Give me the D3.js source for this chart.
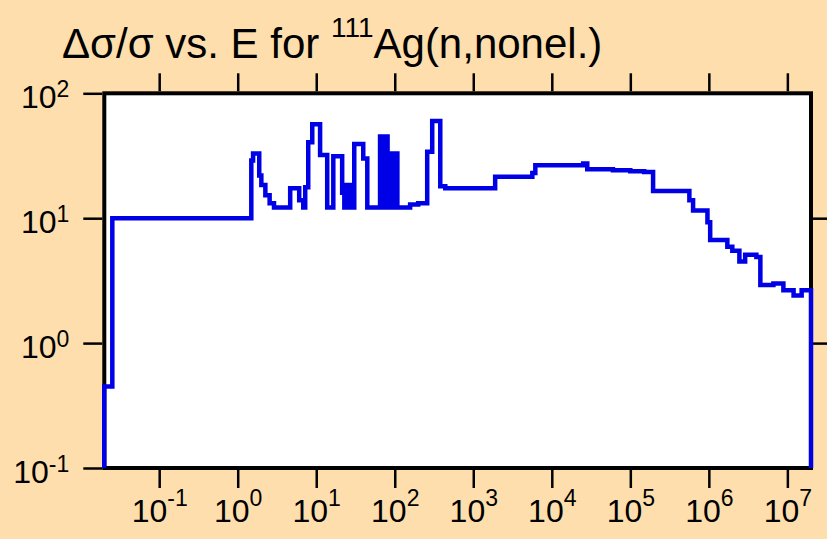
<!DOCTYPE html>
<html>
<head>
<meta charset="utf-8">
<script src="https://cdn.jsdelivr.net/npm/d3@7"></script>
<style>
  html, body { margin: 0; padding: 0; background: #FFDEAD; }
  svg { display: block; font-family: "Liberation Sans", Arial, sans-serif; }
</style>
</head>
<body>
<div id="chart"></div>
<script>
// step curve: energy (eV) where each step starts, and the value from there on
const energies = [0.02, 0.0253, 1.49, 1.57, 1.88, 2.0, 2.25, 2.55, 2.9, 4.66, 6.07, 6.83, 7.24, 7.91, 8.9,
    11.2, 13.8, 16.5, 21.4, 22.8, 24.1, 25.8, 27.2, 28.8, 30.5, 39.7, 44.7,
    65, 68, 71, 74, 77, 81, 85, 89, 93, 98, 103, 108, 157, 199, 259, 300, 380, 440,
    1900, 5650, 6170, 25100, 28300, 60000, 100000, 150000, 195000, 565000, 630000, 960000,
    1.04e6, 1.72e6, 1.99e6, 2.45e6, 2.9e6, 4.03e6, 4.53e6, 6.64e6, 8.9e6, 1.2e7, 1.52e7];
const values = [0.45, 10, 29, 33, 22, 18.4, 15.3, 13.2, 12.2, 17.4, 13.9, 12.2, 17.7, 40.5, 56.5,
    32, 12.2, 31.3, 16, 12.2, 18.4, 12.2, 18.4, 12.2, 39.3, 30, 12.2,
    45, 12.2, 45, 12.2, 45, 12.2, 33, 12.2, 33, 12.2, 33, 12.2, 12.9, 13.2, 34, 60, 18, 17.4,
    21.5, 23, 26.5, 27.4, 24.6, 24.2, 23.8, 23.4, 16.5, 13.9, 11.5, 9.3,
    6.7, 5.9, 5.5, 4.5, 5.1, 4.9, 2.92, 3.0, 2.65, 2.4, 2.65];
const eMin = 0.02, eMax = 2e7;
const yMin = 0.1, yMax = 100;
const xTickExps = [-1, 0, 1, 2, 3, 4, 5, 6, 7];
const yTickExps = [-1, 0, 1, 2];
const rightTickExps = [0, 1];

const width = 827, height = 539;
const margin = { top: 93.3, right: 16, bottom: 71, left: 104.3 };

const svg = d3.select("#chart").append("svg")
    .attr("width", width)
    .attr("height", height);

svg.append("rect")
    .attr("width", width)
    .attr("height", height)
    .attr("fill", "#FFDEAD");

const x = d3.scaleLog().domain([eMin, eMax]).range([margin.left, width - margin.right]);
const y = d3.scaleLog().domain([yMin, yMax]).range([height - margin.bottom, margin.top]);

// plot area
svg.append("rect")
    .attr("x", x(eMin))
    .attr("y", y(yMax))
    .attr("width", x(eMax) - x(eMin))
    .attr("height", y(yMin) - y(yMax))
    .attr("fill", "#fff")
    .attr("stroke", "#000")
    .attr("stroke-width", 4);

// axes (ticks outside the frame)
const tickStyle = g => {
    g.select(".domain").remove();
    g.selectAll(".tick line").attr("stroke", "#000").attr("stroke-width", 2.5);
};

svg.append("g")
    .attr("transform", `translate(0,${y(yMax) - 2})`)
    .call(d3.axisTop(x).tickValues(xTickExps.map(e => Math.pow(10, e))).tickSize(18).tickFormat(""))
    .call(tickStyle);

const xAxis = svg.append("g")
    .attr("transform", `translate(0,${y(yMin) + 2})`)
    .call(d3.axisBottom(x).tickValues(xTickExps.map(e => Math.pow(10, e))).tickSize(18).tickFormat(""))
    .call(tickStyle);

const yAxis = svg.append("g")
    .attr("transform", `translate(${x(eMin) - 2},0)`)
    .call(d3.axisLeft(y).tickValues(yTickExps.map(e => Math.pow(10, e))).tickSize(19).tickFormat(""))
    .call(tickStyle);

svg.append("g")
    .attr("transform", `translate(${x(eMax) + 2},0)`)
    .call(d3.axisRight(y).tickValues(rightTickExps.map(e => Math.pow(10, e))).tickSize(18).tickFormat(""))
    .call(tickStyle);

// power-of-ten labels
xAxis.selectAll(".tick").each(function(d, i) {
    const t = d3.select(this).append("text")
        .attr("y", 52)
        .attr("text-anchor", "middle")
        .attr("fill", "#000")
        .style("font-size", "32px");
    t.append("tspan").text("10");
    t.append("tspan").attr("dy", -16).style("font-size", "23px").text(xTickExps[i]);
});

yAxis.selectAll(".tick").each(function(d, i) {
    const t = d3.select(this).append("text")
        .attr("x", -33)
        .attr("y", 14)
        .attr("text-anchor", "end")
        .attr("fill", "#000")
        .style("font-size", "32px");
    t.append("tspan").text("10");
    t.append("tspan").attr("dy", -11).style("font-size", "23px").text(yTickExps[i]);
});

// step curve
const pts = [[eMin, yMin]].concat(energies.map((e, i) => [e, values[i]]));
pts.push([eMax, values[values.length - 1]]);
pts.push([eMax, yMin]);

const line = d3.line()
    .x(d => x(d[0]))
    .y(d => y(d[1]))
    .curve(d3.curveStepAfter);

svg.append("path")
    .datum(pts)
    .attr("d", line)
    .attr("fill", "none")
    .attr("stroke", "#0000E6")
    .attr("stroke-width", 4.5)
    .attr("stroke-linejoin", "miter");

// title
const title = svg.append("text")
    .attr("x", 62)
    .attr("y", 58)
    .attr("fill", "#000")
    .style("font-size", "42px");
title.append("tspan").text("\u0394\u03c3/\u03c3 vs. E for ");
title.append("tspan").attr("dy", -21).style("font-size", "28px").text("111");
title.append("tspan").attr("dy", 21).text("Ag(n,nonel.)");
</script>
</body>
</html>
